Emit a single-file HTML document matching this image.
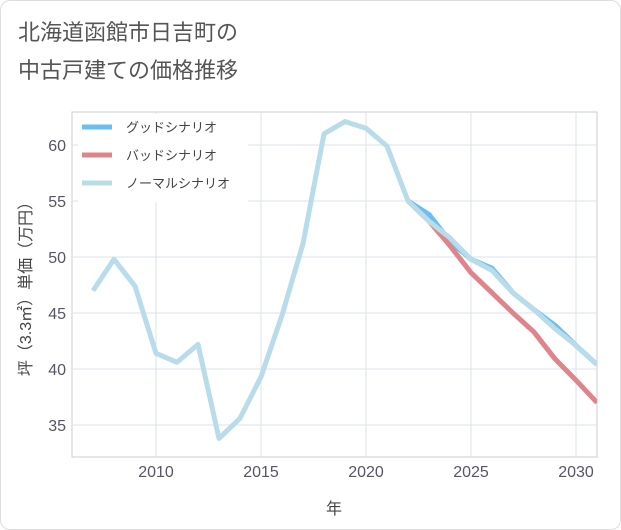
<!DOCTYPE html>
<html><head><meta charset="utf-8">
<style>
body{margin:0;background:#fff;}
.wrap{width:621px;height:530px;position:relative;font-family:"Liberation Sans","Noto Sans CJK JP",sans-serif;}
.card{position:absolute;left:0;top:0;width:619px;height:528px;border:1px solid #ddd;border-radius:10px;background:#fff;}
svg text{font-family:"Liberation Sans","Noto Sans CJK JP",sans-serif;}
</style></head><body>
<div class="wrap">
<div class="card"></div>
<svg id="chart" width="621" height="530" style="position:absolute;left:0;top:0">
<text x="18" y="40" font-size="22" fill="#555">北海道函館市日吉町の</text>
<text x="18" y="78" font-size="22" fill="#555">中古戸建ての価格推移</text>
<g id="grid"></g><g id="series"></g><g id="axes"></g>
<text x="334" y="514" font-size="16" fill="#444" text-anchor="middle">年</text>
<text transform="translate(31,285) rotate(-90)" font-size="16" fill="#444" text-anchor="middle">坪（3.3㎡）単価（万円）</text>
<g id="legend"></g>
</svg>
</div>
<script>
const years=[2007,2008,2009,2010,2011,2012,2013,2014,2015,2016,2017,2018,2019,2020,2021,2022,2023,2024,2025,2026,2027,2028,2029,2030,2031];
const normalVals=[47,49.8,47.4,41.4,40.6,42.2,33.8,35.6,39.3,44.8,51.2,61,62.1,61.5,59.9,55,53.2,51.7,49.8,48.8,46.8,45.3,43.6,42.1,40.4];
const forecastYears=[2022,2023,2024,2025,2026,2027,2028,2029,2030,2031];
const goodVals=[55,53.8,51.4,49.8,49,46.8,45.3,43.9,42.1,40.4];
const badVals=[55,53.2,51,48.6,46.8,45,43.3,40.9,39,37];
const xTicks=[2010,2015,2020,2025,2030];
const yTicks=[35,40,45,50,55,60];
const seriesNames=["グッドシナリオ","バッドシナリオ","ノーマルシナリオ"];
const colors=["#6bbff0","#e0848c","#b8dcea"];
const L=72,R=597,T=112,B=457;
const xs=v=>156+(v-2010)*21;
const ys=v=>369-(v-40)*11.2;
const NS="http://www.w3.org/2000/svg";
function mk(tag,attrs,parent){const e=document.createElementNS(NS,tag);for(const k in attrs)e.setAttribute(k,attrs[k]);document.getElementById(parent).appendChild(e);return e;}
let r=mk('rect',{x:L,y:T,width:R-L,height:B-T,fill:'none',stroke:'#ccc'},'grid');


yTicks.forEach(v=>{
 let l=mk('line',{x1:L,x2:R,y1:ys(v),y2:ys(v),stroke:'#dde3ea'},'grid');
 
 
 let t=mk('text',{x:L-6,y:ys(v)+6,'text-anchor':'end','font-size':16,fill:'#556'},'axes');t.textContent=v;
 
 
});
xTicks.forEach(v=>{
 let l=mk('line',{x1:xs(v),x2:xs(v),y1:T,y2:B,stroke:'#dde3ea'},'grid');
 
 
 let t=mk('text',{x:xs(v),y:B+20,'text-anchor':'middle','font-size':16,fill:'#556'},'axes');t.textContent=v;
 
 
});
mk('clipPath',{id:'clip'},'series').appendChild(Object.assign(document.createElementNS(NS,'rect'),{}));
document.querySelector('#clip rect').setAttribute('x',L);document.querySelector('#clip rect').setAttribute('y',T);
document.querySelector('#clip rect').setAttribute('width',R-L);document.querySelector('#clip rect').setAttribute('height',B-T);
function line(xv,yv,c,name){
 let p=mk('polyline',{points:xv.map((x,i)=>xs(x)+','+ys(yv[i])).join(' '),fill:'none',stroke:c,'stroke-width':5,'stroke-linejoin':'round','clip-path':'url(#clip)'},'series');
 
 
}
line(forecastYears,goodVals,colors[0],'good-scenario-line');
line(forecastYears,badVals,colors[1],'bad-scenario-line');
line(years,normalVals,colors[2],'normal-scenario-line');
let lb=mk('rect',{x:78,y:114,width:170,height:88,fill:'#fff'},'legend');


seriesNames.forEach((n,i)=>{
 let y=127+i*28;
 let s=mk('line',{x1:82,x2:112,y1:y,y2:y,stroke:colors[i],'stroke-width':5},'legend');
 
 
 let t=mk('text',{x:126,y:y+5,'font-size':13,fill:'#444'},'legend');t.textContent=n;
 
 
});
</script>
</body></html>
